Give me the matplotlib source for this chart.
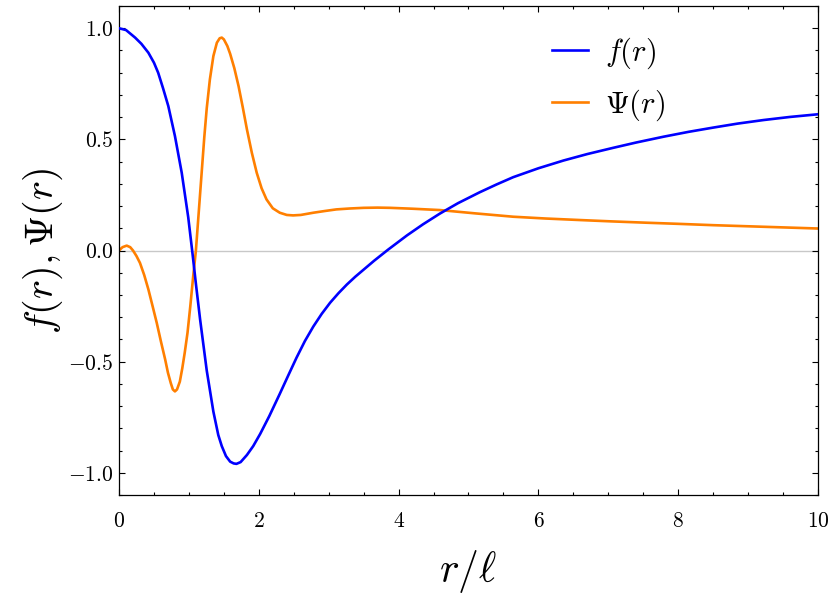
import matplotlib
matplotlib.use('Agg')
import matplotlib.pyplot as plt
from matplotlib.ticker import MultipleLocator, FuncFormatter

plt.rcParams['font.family'] = 'serif'
plt.rcParams['font.serif'] = ['cmr10', 'DejaVu Serif']
plt.rcParams['mathtext.fontset'] = 'cm'
plt.rcParams['axes.unicode_minus'] = False

# f(r)
r_f = [0.0, 0.1, 0.23, 0.32, 0.42, 0.5, 0.56, 0.63, 0.705, 0.80, 0.897, 0.99, 1.05,
       1.10, 1.16, 1.255, 1.35, 1.42, 1.47, 1.53, 1.59, 1.64, 1.68, 1.74, 1.83, 1.92,
       2.02, 2.15, 2.30, 2.42, 2.54, 2.66, 2.78, 2.90, 3.02, 3.14, 3.26, 3.38, 3.50,
       3.65, 3.85, 4.12, 4.35, 4.59, 4.85, 5.16, 5.40, 5.64, 6.0, 6.36, 6.7, 7.07,
       7.4, 7.79, 8.15, 8.50, 8.85, 9.22, 9.6, 10.0]
f_vals = [1.0, 0.992, 0.958, 0.93, 0.89, 0.845, 0.80, 0.73, 0.65, 0.515, 0.35, 0.15, -0.01,
          -0.15, -0.31, -0.54, -0.725, -0.83, -0.88, -0.925, -0.95, -0.958, -0.96, -0.952, -0.92, -0.88,
          -0.825, -0.745, -0.645, -0.563, -0.482, -0.407, -0.342, -0.285, -0.235, -0.192, -0.153, -0.118, -0.086,
          -0.046, 0.004, 0.068, 0.118, 0.166, 0.213, 0.262, 0.297, 0.33, 0.37, 0.405, 0.434, 0.462,
          0.486, 0.512, 0.534, 0.553, 0.571, 0.587, 0.601, 0.613]

# Psi(r)
r_psi = [0.0, 0.05, 0.11, 0.16, 0.2, 0.25, 0.30, 0.36, 0.42, 0.48, 0.54, 0.60, 0.66,
         0.70, 0.74, 0.77, 0.80, 0.83, 0.87, 0.905, 0.94, 0.98, 1.02, 1.06, 1.10, 1.14,
         1.18, 1.22, 1.255, 1.30, 1.35, 1.40, 1.44, 1.47, 1.50, 1.55, 1.59, 1.65, 1.71,
         1.77, 1.83, 1.90, 1.97, 2.04, 2.11, 2.20, 2.30, 2.40, 2.49, 2.60, 2.78, 2.95,
         3.11, 3.30, 3.50, 3.70, 3.88, 4.2, 4.59, 5.1, 5.64, 6.1, 6.60, 7.05, 7.55,
         8.0, 8.50, 9.0, 9.5, 10.0]
psi_vals = [0.0, 0.015, 0.022, 0.015, 0.0, -0.025, -0.056, -0.11, -0.175, -0.25, -0.326, -0.41, -0.49,
            -0.55, -0.596, -0.625, -0.634, -0.625, -0.59, -0.53, -0.46, -0.37, -0.25, -0.12, 0.0, 0.17,
            0.34, 0.51, 0.64, 0.77, 0.875, 0.935, 0.955, 0.958, 0.95, 0.92, 0.885, 0.82, 0.74,
            0.645, 0.545, 0.44, 0.35, 0.28, 0.23, 0.19, 0.17, 0.16, 0.158, 0.16, 0.17, 0.178,
            0.185, 0.189, 0.192, 0.193, 0.192, 0.188, 0.182, 0.167, 0.152, 0.144, 0.137, 0.131, 0.125,
            0.12, 0.114, 0.109, 0.104, 0.099]

fig = plt.figure(figsize=(8.3, 6.04), dpi=100)
ax = fig.add_axes([0.1434, 0.1805, 0.8421, 0.8095])

ax.axhline(0, color='#c8c8c8', lw=1.0, zorder=1)
ax.plot(r_f, f_vals, color='#0000ff', lw=1.9, label=r'$f(r)$', zorder=3)
ax.plot(r_psi, psi_vals, color='#ff7f00', lw=1.9, label=r'$\Psi(r)$', zorder=2)

ax.set_xlim(0, 10)
ax.set_ylim(-1.1, 1.1)
ax.xaxis.set_major_locator(MultipleLocator(2))
ax.xaxis.set_minor_locator(MultipleLocator(0.5))
ax.yaxis.set_major_locator(MultipleLocator(0.5))
ax.yaxis.set_minor_locator(MultipleLocator(0.1))
ax.xaxis.set_major_formatter(FuncFormatter(lambda v, p: r'$%d$' % round(v)))
ax.yaxis.set_major_formatter(FuncFormatter(lambda v, p: r'$%.1f$' % v))
ax.tick_params(which='both', direction='in', top=True, right=True, labelsize=15.5, width=0.8)
ax.tick_params(which='major', length=4.5)
ax.tick_params(which='minor', length=2.5)
ax.tick_params(axis='x', which='major', pad=12)
ax.tick_params(axis='y', which='major', pad=4)
for s in ax.spines.values():
    s.set_linewidth(0.9)

ax.set_xlabel(r'$r/\ell$', fontsize=30, labelpad=12)
ax.set_ylabel(r'$f(r), \Psi(r)$', fontsize=29, labelpad=2)

ax.legend(loc='upper left', bbox_to_anchor=(0.619, 0.94), frameon=False, fontsize=22,
          handlelength=1.2, handletextpad=0.55, labelspacing=0.55, borderpad=0, borderaxespad=0)

plt.savefig('out.png', dpi=100)
